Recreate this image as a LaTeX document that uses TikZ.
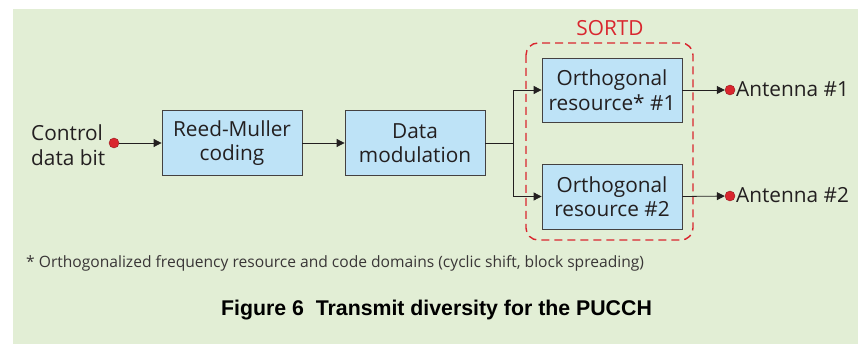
\documentclass[tikz,border=0pt]{standalone}
\usepackage{fontspec}
\setmainfont{Open Sans}
\newfontfamily\capfont{Liberation Sans}
\usetikzlibrary{arrows.meta}
\definecolor{bggreen}{HTML}{E2EED5}
\definecolor{boxblue}{HTML}{BEE3F7}
\definecolor{sortdred}{HTML}{D9262E}
\definecolor{inkgray}{HTML}{231F20}
\begin{document}
\begin{tikzpicture}[x=1pt,y=-1pt,
  block/.style={draw=inkgray!85,line width=0.8pt,fill=boxblue,minimum width=140pt,minimum height=65pt,inner sep=0pt,align=center,font=\fontsize{20.8}{24.5}\selectfont,text=inkgray},
  lbl/.style={font=\fontsize{20.8}{24.5}\selectfont,text=inkgray,inner sep=0pt},
  conn/.style={draw=inkgray,line width=0.8pt},
  arr/.style={conn,-{Triangle[length=8pt,width=8pt]}},
  port/.style={circle,fill=sortdred,draw=sortdred!70!black,line width=0.4pt,minimum size=10pt,inner sep=0pt}]
\useasboundingbox (0,0) rectangle (858,344);
\fill[bggreen] (13,9) rectangle (858,344);

% SORTD group
\draw[sortdred,line width=1.4pt,dash pattern=on 8pt off 5pt,rounded corners=12pt] (526,43) rectangle (693,240);
\node[lbl,text=sortdred] (sortd) at (610,28) {SORTD};

% blocks
\node[block] (rm) at (232,143) {Reed-Muller\\coding};
\node[block] (mod) at (415,143) {Data\\modulation};
\node[block,minimum height=64pt] (or1) at (612,90) {Orthogonal\\resource* \#1};
\node[block,minimum height=65pt] (or2) at (612,196.5) {Orthogonal\\resource \#2};

% input and outputs
\node[port] (in) at (114,143) {};
\node[lbl,align=left,anchor=west] (intxt) at (31,145) {Control\\data bit};
\node[port] (a1) at (730,90) {};
\node[port] (a2) at (730,196) {};
\node[lbl,anchor=west] (a1txt) at (736,89) {Antenna \#1};
\node[lbl,anchor=west] (a2txt) at (736,195) {Antenna \#2};

% connectors
\draw[arr] (in) -- (rm);
\draw[arr] (rm) -- (mod);
\coordinate (split) at (513,143);
\draw[conn] (mod.east) -- (split);
\draw[arr] (split) |- (or1.west);
\draw[arr] (split) |- (or2.west);
\draw[arr] (or1.east) -- (a1);
\draw[arr] (or2.east) -- (a2);

% footnote and caption
\node[lbl,anchor=west,font=\fontsize{15.6}{18}\selectfont,text=inkgray!90] (note) at (26,263) {* Orthogonalized frequency resource and code domains (cyclic shift, block spreading)};
\node[lbl,font=\capfont\bfseries\fontsize{21.3}{24}\selectfont,text=black] (cap) at (436.5,310) {Figure 6\ \ Transmit diversity for the PUCCH};
\end{tikzpicture}
\end{document}
